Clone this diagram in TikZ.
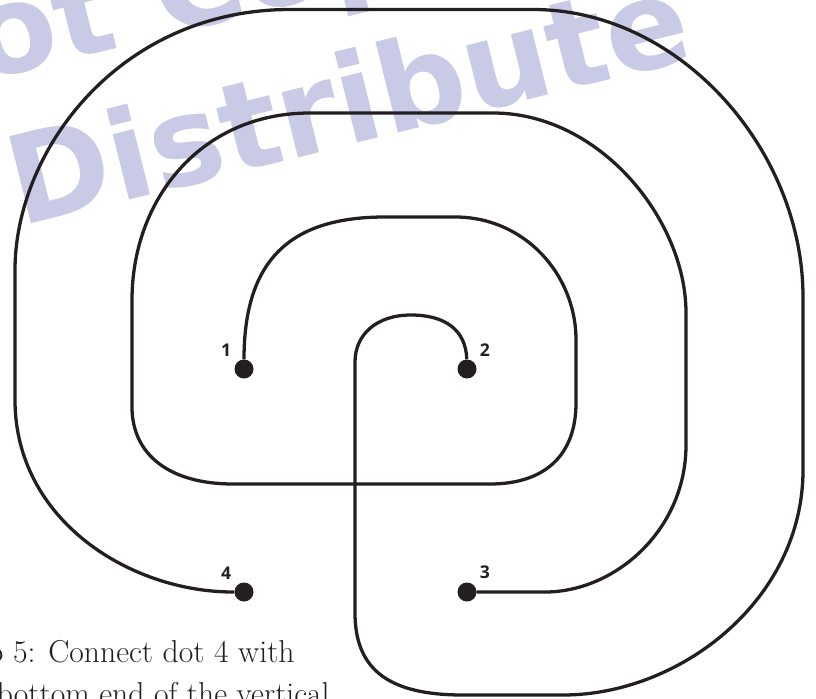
\documentclass[tikz,border=0pt]{standalone}
\usepackage{fontspec}
\newfontfamily\wmfont{DejaVu Sans}
\newfontfamily\lblfont{Open Sans}
\definecolor{ink}{RGB}{35,31,32}
\definecolor{wm}{RGB}{200,202,230}
\tikzset{
  spot/.style={circle,fill=ink,inner sep=0pt,minimum size=0.57cm},
  lbl/.style={font=\lblfont\bfseries\fontsize{15}{15}\selectfont,text=ink,inner sep=0pt,label distance=7pt},
  wire/.style={draw=ink,line width=2.8pt},
  wmark/.style={font=\wmfont\bfseries\fontsize{105}{105}\selectfont,text=wm,inner sep=0pt,rotate=14,anchor=base west}
}
\begin{document}
\begin{tikzpicture}[x=0.03cm,y=-0.03cm]
\useasboundingbox (0,0) rectangle (816,698);
% vodoznak
\node[wmark] (wm1) at (-340,162) {Do Not Copy};
\node[wmark] (wm2) at (20,227) {Distribute};
% body
\node[spot,label={[lbl]135:1}] (d1) at (244,369) {};
\node[spot,label={[lbl]45:2}] (d2) at (467,369) {};
\node[spot,label={[lbl]45:3}] (d3) at (467,592) {};
\node[spot,label={[lbl]135:4}] (d4) at (244,592) {};
% cara 1 -> 3
\draw[wire] (d1) .. controls (244,260) and (290,217) .. (385,217) -- (455,217)
  .. controls (525,217) and (576,275) .. (576,340) -- (576,403)
  .. controls (576,455) and (545,484) .. (490,484) -- (233,484)
  .. controls (170,484) and (132,455) .. (132,407) -- (132,300)
  .. controls (132,200) and (200,113) .. (310,113) -- (493,113)
  .. controls (600,113) and (686,220) .. (686,313) -- (686,445)
  .. controls (686,530) and (615,592) .. (545,592) -- (d3);
% cara 2 -> 4
\draw[wire] (d2) .. controls (466,330) and (445,315) .. (411,315)
  .. controls (376,315) and (355,335) .. (355,362) -- (355,613)
  .. controls (355,672) and (392,695) .. (463,695) -- (563,695)
  .. controls (680,695) and (803,600) .. (803,470) -- (803,297)
  .. controls (803,150) and (680,9.5) .. (533,9.5) -- (290,9.5)
  .. controls (120,9.5) and (15,150) .. (15,270) -- (15,400)
  .. controls (15,520) and (130,592) .. (233,592) -- (d4);
% popisek
\node[anchor=north west,align=left,inner sep=0pt,text=ink,font=\fontsize{27}{36}\selectfont] (cap) at (-53,640)
  {Step 5: Connect dot 4 with\\the bottom end of the vertical};
\end{tikzpicture}
\end{document}
